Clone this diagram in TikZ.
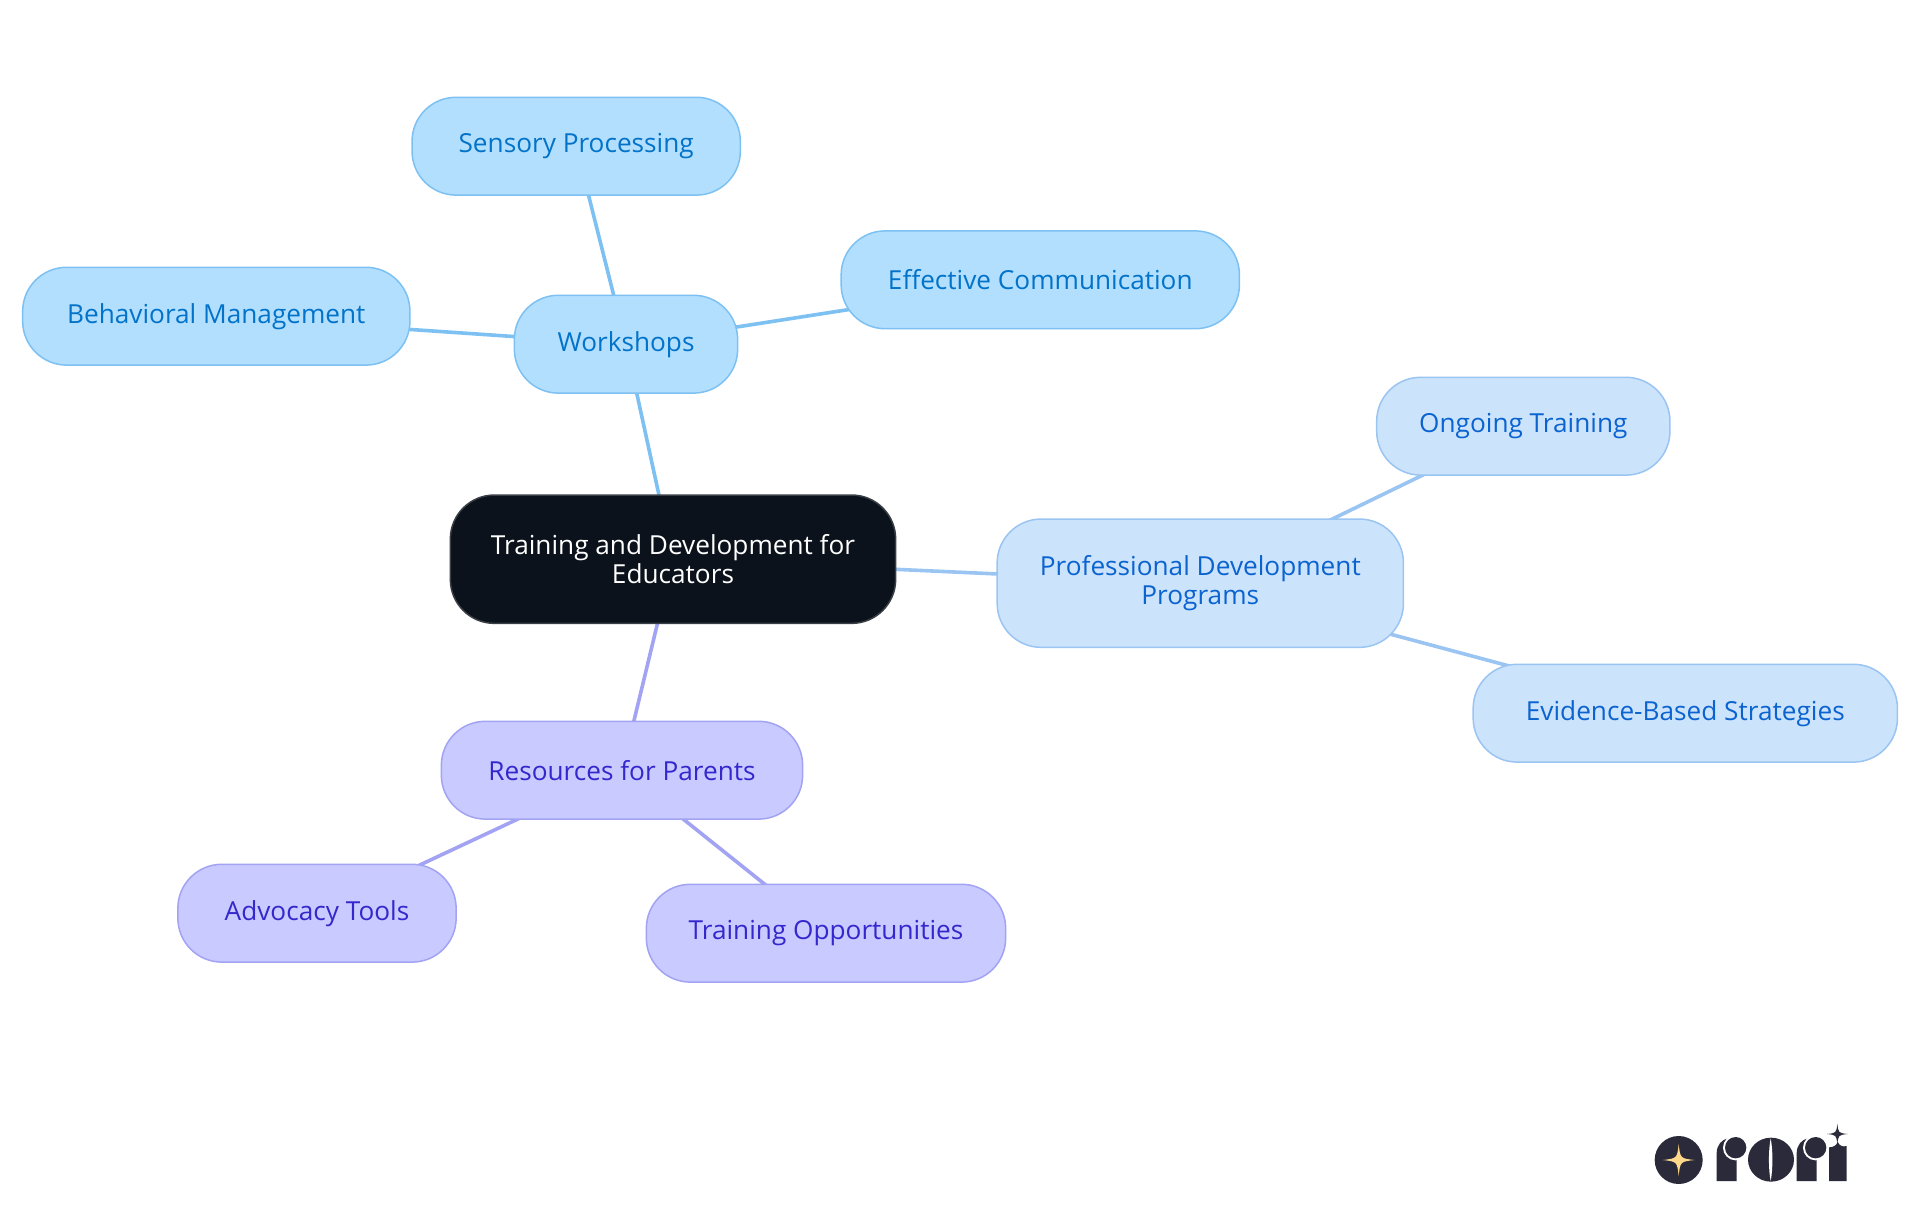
\documentclass[tikz,border=0pt]{standalone}
\usepackage{fontspec}
\setmainfont{Open Sans}
\usetikzlibrary{backgrounds}
\definecolor{wfill}{HTML}{B3DFFF}\definecolor{wline}{HTML}{7CC1F2}\definecolor{wtext}{HTML}{0273C8}
\definecolor{pfill}{HTML}{CCE3FC}\definecolor{pline}{HTML}{9AC4F2}\definecolor{ptext}{HTML}{0B63D0}
\definecolor{rfill}{HTML}{C9CAFF}\definecolor{rline}{HTML}{A2A3F2}\definecolor{rtext}{HTML}{3427CC}
\definecolor{rootfill}{HTML}{0B121B}\definecolor{rootline}{HTML}{3A3F45}
\definecolor{logodark}{HTML}{2A2A3A}\definecolor{logostar}{HTML}{FFD98A}
\newcommand{\fourstar}[4]{\fill[#4] (#1,#2-#3) .. controls (#1+0.1*#3,#2-0.1*#3) .. (#1+#3,#2) .. controls (#1+0.1*#3,#2+0.1*#3) .. (#1,#2+#3) .. controls (#1-0.1*#3,#2+0.1*#3) .. (#1-#3,#2) .. controls (#1-0.1*#3,#2-0.1*#3) .. cycle;}
\tikzset{
  mnode/.style={rectangle,rounded corners=44pt,line width=1.5pt,inner sep=0pt,align=center,
    font=\fontsize{26.2}{29.6}\selectfont},
  wnode/.style={mnode,fill=wfill,draw=wline,text=wtext},
  pnode/.style={mnode,fill=pfill,draw=pline,text=ptext},
  rnode/.style={mnode,fill=rfill,draw=rline,text=rtext},
  rootnode/.style={mnode,fill=rootfill,draw=rootline,text=white},
  wedge/.style={draw=wline,line width=3.6pt},
  pedge/.style={draw=pline,line width=3.6pt},
  redge/.style={draw=rline,line width=3.6pt},
}
\begin{document}
\begin{tikzpicture}[x=1pt,y=-1pt]
\useasboundingbox (0,0) rectangle (1920,1215);
\node[rootnode,minimum width=445.3pt,minimum height=128.3pt] (root) at (673,559.2) {Training and Development for\\Educators};
\node[wnode,minimum width=223.3pt,minimum height=97.8pt] (work) at (626,344.2) {Workshops};
\node[wnode,minimum width=328.3pt,minimum height=97.8pt] (sens) at (576.2,146.2) {Sensory Processing};
\node[wnode,minimum width=398.3pt,minimum height=97.8pt] (eff) at (1040.3,279.8) {Effective Communication};
\node[wnode,minimum width=387.3pt,minimum height=97.8pt] (beh) at (216.3,316.2) {Behavioral Management};
\node[pnode,minimum width=406.3pt,minimum height=128.3pt] (prof) at (1200.3,583.2) {Professional Development\\Programs};
\node[pnode,minimum width=293.3pt,minimum height=97.8pt] (ong) at (1523.3,426.2) {Ongoing Training};
\node[pnode,minimum width=424.3pt,minimum height=97.8pt] (evi) at (1685.3,713.2) {Evidence-Based Strategies};
\node[rnode,minimum width=361.3pt,minimum height=97.8pt] (res) at (622,770.2) {Resources for Parents};
\node[rnode,minimum width=278.3pt,minimum height=97.8pt] (adv) at (317,913.2) {Advocacy Tools};
\node[rnode,minimum width=359.3pt,minimum height=97.8pt] (opp) at (826,933.2) {Training Opportunities};
\begin{scope}[on background layer]
\draw[wedge] (root.center) -- (work.center);
\draw[wedge] (work.center) -- (sens.center);
\draw[wedge] (work.center) -- (eff.center);
\draw[wedge] (work.center) -- (beh.center);
\draw[pedge] (root.center) -- (prof.center);
\draw[pedge] (prof.center) -- (ong.center);
\draw[pedge] (prof.center) -- (evi.center);
\draw[redge] (root.center) -- (res.center);
\draw[redge] (res.center) -- (adv.center);
\draw[redge] (res.center) -- (opp.center);
\end{scope}
% logo
\begin{scope}[shift={(1620,1100)},scale=0.33333]
\fill[logodark] (176,180) circle[radius=72];
\fourstar{176}{180}{48}{logostar}
\fill[logodark] (290,243) -- (290,160) .. controls (290,135) and (305,118) .. (325,115) -- (350,115) -- (350,243) -- cycle;
\fill[white] (347,143) circle[radius=38];
\fill[logodark] (347,143) circle[radius=32];
\fill[logodark] (453,179) ellipse[x radius=69,y radius=66];
\fill[white] (452,115) .. controls (459,150) and (459,208) .. (452,243) .. controls (445,208) and (445,150) .. cycle;
\fill[logodark] (530,243) -- (530,160) .. controls (530,135) and (545,118) .. (565,115) -- (590,115) -- (590,243) -- cycle;
\fill[white] (587,143) circle[radius=38];
\fill[logodark] (587,143) circle[radius=32];
\fill[logodark] (627,243) -- (627,142) .. controls (640,142) and (650,136) .. (653,125) .. controls (656,136) and (668,142) .. (680,138) -- (680,243) -- cycle;
\fourstar{652}{102}{31}{logodark}
\end{scope}
\end{tikzpicture}
\end{document}
